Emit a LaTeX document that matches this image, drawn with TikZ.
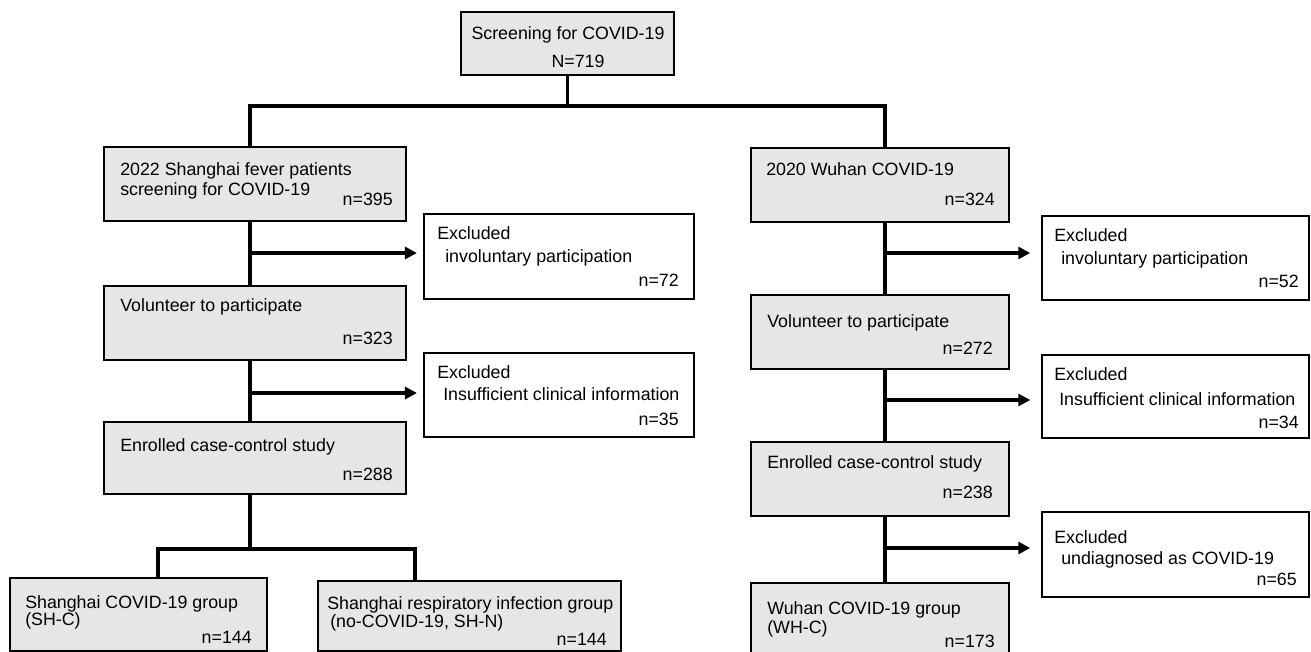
\documentclass[tikz,border=0pt]{standalone}
\usepackage{fontspec}
\setmainfont{Liberation Sans}
\usetikzlibrary{arrows.meta}
\definecolor{boxgray}{RGB}{230,230,230}
\tikzset{
  graybox/.style={draw=black, line width=1.6pt, fill=boxgray, inner sep=0pt},
  whitebox/.style={draw=black, line width=1.6pt, fill=white, inner sep=0pt},
  sz/.style 2 args={minimum width={#1*0.75pt}, minimum height={#2*0.75pt}},
  txt/.style={inner sep=0pt, font=\fontsize{13.35}{16}\selectfont, anchor=base west},
  num/.style={inner sep=0pt, font=\fontsize{13.35}{16}\selectfont, anchor=base east},
  conn/.style={line width=2.6pt, line join=miter},
  arr/.style={line width=2.6pt, -{Triangle[length=9pt,width=9pt]}}
}
\begin{document}
\begin{tikzpicture}[x=0.75pt,y=-0.75pt]
\useasboundingbox (0,0) rectangle (1311,652);
\clip (0,0) rectangle (1311,652);
% boxes
\node[graybox, sz={213}{63}] (top) at (567.5,43.5) {};
\node[graybox, sz={302}{74}] (A1) at (255,184) {};
\node[graybox, sz={302}{74}] (A2) at (255,323) {};
\node[graybox, sz={302}{72}] (A3) at (255,458) {};
\node[whitebox, sz={270}{85}] (EL1) at (559,256.5) {};
\node[whitebox, sz={270}{84}] (EL2) at (559,395) {};
\node[graybox, sz={257}{73}] (B1) at (138.5,614.5) {};
\node[graybox, sz={303}{70}] (B2) at (469.5,616) {};
\node[graybox, sz={258}{74}] (R1) at (880,185) {};
\node[graybox, sz={258}{74}] (R2) at (880,332) {};
\node[graybox, sz={258}{74}] (R3) at (880,479) {};
\node[graybox, sz={258}{80}] (R4) at (880,623) {};
\node[whitebox, sz={267}{84}] (ER1) at (1175.5,258) {};
\node[whitebox, sz={267}{83}] (ER2) at (1175.5,396.5) {};
\node[whitebox, sz={267}{85}] (ER3) at (1175.5,554.5) {};
% spine coordinates
\coordinate (jt) at (573,106);
\coordinate (Lx) at (250,106);
\coordinate (Rx) at (885,106);
\coordinate (Lb) at (250,549);
\coordinate (B1x) at (158,549);
\coordinate (B2x) at (415,549);
% connectors
\draw[conn] (jt -| top.south) -- (top.south);
\draw[conn] (Lx |- A1.north) -- (Lx) -- (Rx) -- (Rx |- R1.north);
\draw[conn] (Lx |- A1.south) -- (Lx |- A2.north);
\draw[conn] (Lx |- A2.south) -- (Lx |- A3.north);
\draw[conn] (Lx |- A3.south) -- (Lb);
\draw[conn] (B1x |- B1.north) -- (B1x) -- (B2x) -- (B2x |- B2.north);
\draw[conn] (Rx |- R1.south) -- (Rx |- R2.north);
\draw[conn] (Rx |- R2.south) -- (Rx |- R3.north);
\draw[conn] (Rx |- R3.south) -- (Rx |- R4.north);
\coordinate (aL1) at (250,253);
\coordinate (aL2) at (250,393);
\coordinate (aR1) at (885,253);
\coordinate (aR2) at (885,400);
\coordinate (aR3) at (885,548);
\draw[arr, shorten >=4.5pt] (aL1) -- (aL1 -| EL1.west);
\draw[arr, shorten >=4.5pt] (aL2) -- (aL2 -| EL2.west);
\draw[arr, shorten >=8pt] (aR1) -- (aR1 -| ER1.west);
\draw[arr, shorten >=8pt] (aR2) -- (aR2 -| ER2.west);
\draw[arr, shorten >=8pt] (aR3) -- (aR3 -| ER3.west);
% texts
\node[txt, anchor=base] (t0a) at (568,40) {Screening for COVID-19};
\node[txt, anchor=base] (t0b) at (578,68) {N=719};
\node[txt] (tA1a) at (120,176) {2022 Shanghai fever patients};
\node[txt] (tA1b) at (120,196) {screening for COVID-19};
\node[num] (tA1n) at (393,206) {n=395};
\node[txt] (tA2a) at (120,312) {Volunteer to participate};
\node[num] (tA2n) at (393,345) {n=323};
\node[txt] (tA3a) at (120,451) {Enrolled case-control study};
\node[num] (tA3n) at (393,480) {n=288};
\node[txt] (tEL1a) at (437,240) {Excluded};
\node[txt] (tEL1b) at (445,263) {involuntary participation};
\node[num] (tEL1n) at (679,287) {n=72};
\node[txt] (tEL2a) at (437,379) {Excluded};
\node[txt] (tEL2b) at (443,401) {Insufficient clinical information};
\node[num] (tEL2n) at (679,426) {n=35};
\node[txt] (tB1a) at (25,608) {Shanghai COVID-19 group};
\node[txt] (tB1b) at (25,625) {(SH-C)};
\node[num] (tB1n) at (252,643) {n=144};
\node[txt] (tB2a) at (327,609) {Shanghai respiratory infection group};
\node[txt] (tB2b) at (330,627) {(no-COVID-19, SH-N)};
\node[num] (tB2n) at (607,645) {n=144};
\node[txt] (tR1a) at (766,176) {2020 Wuhan COVID-19};
\node[num] (tR1n) at (995,206) {n=324};
\node[txt] (tR2a) at (767,328) {Volunteer to participate};
\node[num] (tR2n) at (993,355) {n=272};
\node[txt] (tR3a) at (767,469) {Enrolled case-control study};
\node[num] (tR3n) at (993,498) {n=238};
\node[txt] (tR4a) at (767,614) {Wuhan COVID-19 group};
\node[txt] (tR4b) at (767,633) {(WH-C)};
\node[num] (tR4n) at (995,647) {n=173};
\node[txt] (tER1a) at (1054,242) {Excluded};
\node[txt] (tER1b) at (1061,265) {involuntary participation};
\node[num] (tER1n) at (1299,288) {n=52};
\node[txt] (tER2a) at (1054,381) {Excluded};
\node[txt] (tER2b) at (1059,406) {Insufficient clinical information};
\node[num] (tER2n) at (1299,428) {n=34};
\node[txt] (tER3a) at (1054,543) {Excluded};
\node[txt] (tER3b) at (1061,564) {undiagnosed as COVID-19};
\node[num] (tER3n) at (1297,585) {n=65};
\end{tikzpicture}
\end{document}
